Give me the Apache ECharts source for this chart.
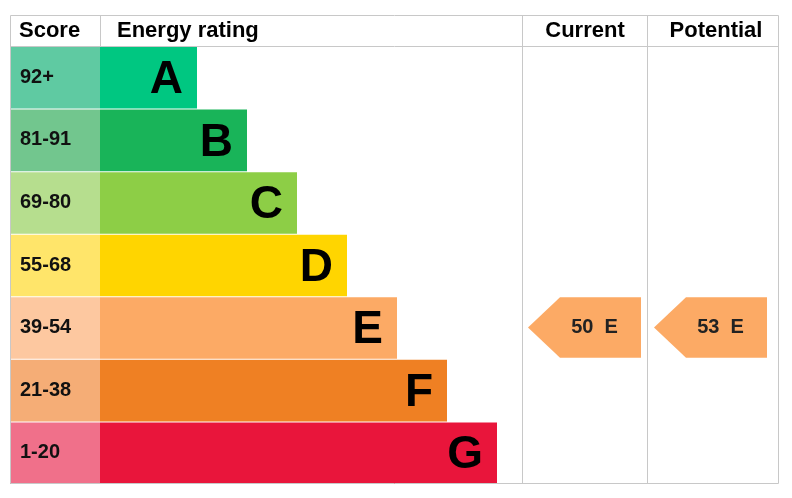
<!DOCTYPE html>
<html><head><meta charset="utf-8">
<script src="https://cdn.jsdelivr.net/npm/echarts@6/dist/echarts.min.js"></script>
<style>html,body{margin:0;padding:0;background:#fff}#c{width:792px;height:498px}</style>
</head><body><div id="c"></div>
<script>
const bands = ['A','B','C','D','E','F','G'];
const ranges = ['92+','81-91','69-80','55-68','39-54','21-38','1-20'];
const barLengths = [97,147,197,247,297,347,397];
const bandColors = ['#00c781','#19b459','#8dce46','#ffd500','#fcaa65','#ef8023','#e9153b'];
const scoreColors = ['#5fcaa2','#72c68e','#b6de8e','#ffe56a','#fdc8a0','#f5ad76','#f0708a'];
const currentRating = {value:50, band:'E'};
const potentialRating = {value:53, band:'E'};

const font = '"Liberation Sans", Arial, sans-serif';
const chart = echarts.init(document.getElementById('c'));
const GX0 = 10, GX1 = 779;

function rect(api, x0, row, w, color){
  const p = api.coord([x0, row]);
  const h = api.size([0,1])[1];
  const w2 = api.size([w,0])[0];
  return {type:'rect', shape:{x:p[0], y:p[1]-h/2+1, width:w2, height:h-1}, style:{fill:color}};
}

const rows = bands.map((b,i)=>[i]);
chart.setOption({
  animation:false,
  grid:{left:GX0, right:792-GX1, top:46, bottom:498-484},
  xAxis:{type:'value', min:0, max:GX1-GX0, show:false},
  yAxis:{type:'category', data:bands, inverse:true, show:false},
  series:[
    {type:'custom', data:rows, renderItem:(params, api)=>{
      const i = api.value(0);
      const s = rect(api, 0, i, 90, scoreColors[i]);
      const b = rect(api, 90, i, barLengths[i], bandColors[i]);
      const p = api.coord([90+barLengths[i], i]);
      const q = api.coord([0, i]);
      return {type:'group', children:[s,b,
        {type:'text', style:{text:ranges[i], x:q[0]+10, y:q[1], verticalAlign:'middle', font:'bold 20px '+font, fill:'#111'}},
        {type:'text', style:{text:bands[i], x:p[0]-14, y:p[1]+3, align:'right', verticalAlign:'middle', font:'bold 46px '+font, fill:'#000'}}
      ]};
    }},
    {type:'custom', data:[[bands.indexOf(currentRating.band), currentRating.value, 518], [bands.indexOf(potentialRating.band), potentialRating.value, 644]],
     renderItem:(params, api)=>{
      const i = api.value(0), v = api.value(1), x0 = api.value(2);
      const row = i;
      const tip = api.coord([x0, row]);
      const h = api.size([0,1])[1] - 2;
      const xe = api.coord([x0+113, row])[0];
      const xn = tip[0]+32;
      const t = tip[1]-h/2, bt = tip[1]+h/2;
      return {type:'group', children:[
        {type:'polygon', shape:{points:[[tip[0],tip[1]],[xn,t],[xe,t],[xe,bt],[xn,bt]]}, style:{fill:bandColors[i]}},
        {type:'text', style:{text:v+'  '+bands[i], x:(xn+xe)/2-6, y:tip[1], align:'center', verticalAlign:'middle', font:'bold 20px '+font, fill:'#222'}}
      ]};
    }}
  ],
  graphic:[
    {type:'rect', shape:{x:10.5,y:15.5,width:768,height:468}, style:{fill:'none', stroke:'#c8c8c8', lineWidth:1}, z:10},
    {type:'line', shape:{x1:10,y1:46.5,x2:779,y2:46.5}, style:{stroke:'#c8c8c8'}, z:10},
    {type:'line', shape:{x1:100.5,y1:15,x2:100.5,y2:46}, style:{stroke:'#c8c8c8'}, z:10},
    {type:'line', shape:{x1:522.5,y1:15,x2:522.5,y2:484}, style:{stroke:'#c8c8c8'}, z:10},
    {type:'line', shape:{x1:647.5,y1:15,x2:647.5,y2:484}, style:{stroke:'#c8c8c8'}, z:10},
    {type:'text', style:{text:'Score', x:19, y:31, verticalAlign:'middle', font:'bold 22px '+font, fill:'#000'}},
    {type:'text', style:{text:'Energy rating', x:117, y:31, verticalAlign:'middle', font:'bold 22px '+font, fill:'#000'}},
    {type:'text', style:{text:'Current', x:585, y:31, align:'center', verticalAlign:'middle', font:'bold 22px '+font, fill:'#000'}},
    {type:'text', style:{text:'Potential', x:716, y:31, align:'center', verticalAlign:'middle', font:'bold 22px '+font, fill:'#000'}}
  ]
});
</script></body></html>
